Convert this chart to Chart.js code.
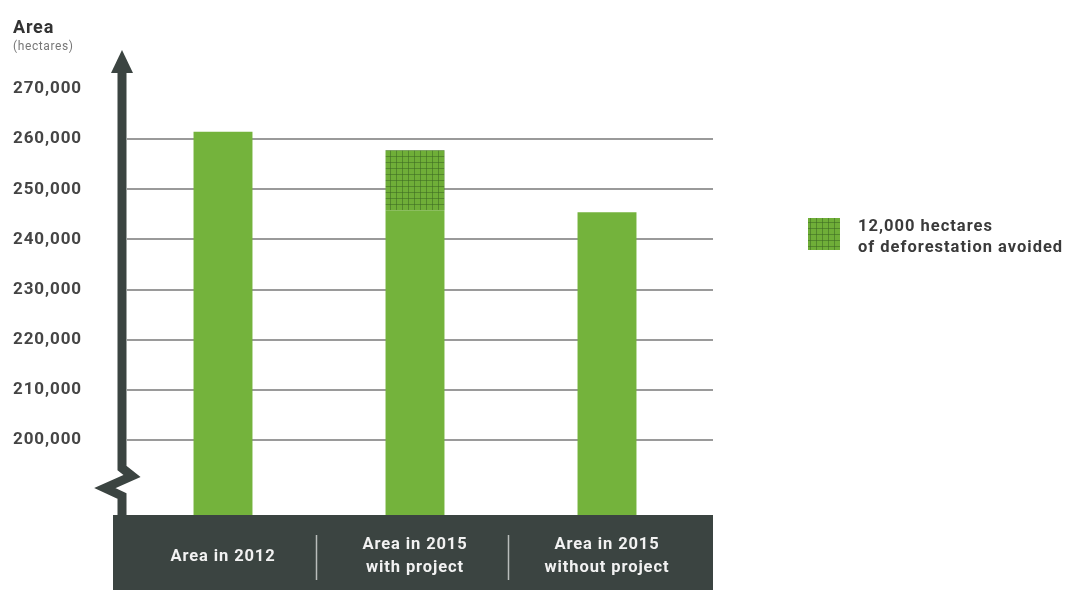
<!DOCTYPE html>
<html>
<head>
<meta charset="utf-8">
<script src="https://cdn.jsdelivr.net/npm/chart.js@4/dist/chart.umd.min.js"></script>
<style>
  html, body { margin: 0; padding: 0; background: #ffffff; }
  #wrap { width: 1071px; height: 590px; }
</style>
</head>
<body>
<div id="wrap"><canvas id="chart" width="1071" height="590"></canvas></div>
<script>
// Forest area per scenario (hectares)
const categories = [
  ['Area in 2012'],
  ['Area in 2015', 'with project'],
  ['Area in 2015', 'without project']
];
const forestArea = [261500, 245800, 245400];
const avoidedDeforestation = [null, 12000, null];
const tickValues = [200000, 210000, 220000, 230000, 240000, 250000, 260000, 270000];
const gridValues = [200000, 210000, 220000, 230000, 240000, 250000, 260000];
const axisTitle = 'Area';
const axisUnit = '(hectares)';
const legendLines = ['12,000 hectares', 'of deforestation avoided'];

const GREEN = '#74b33c';
const DARK = '#3b4441';
const FONT = 'Roboto, "Noto Sans", sans-serif';

// cross-hatched fill for the avoided deforestation segment
function makeHatch(ctx) {
  const c = document.createElement('canvas');
  c.width = 6; c.height = 6;
  const g = c.getContext('2d');
  g.fillStyle = '#6fae38';
  g.fillRect(0, 0, 6, 6);
  g.fillStyle = 'rgba(60,105,35,0.55)';
  g.fillRect(0, 0, 6, 1);
  g.fillRect(0, 0, 1, 6);
  return ctx.createPattern(c, 'repeat');
}

const ctx = document.getElementById('chart').getContext('2d');
const hatch = makeHatch(ctx);

// dark band under the bars with separators between categories
const bandPlugin = {
  id: 'band',
  beforeDraw(chart) {
    const c = chart.ctx;
    const x = chart.scales.x;
    const area = chart.chartArea;
    c.save();
    c.fillStyle = DARK;
    c.fillRect(113, area.bottom, 713 - 113, chart.height - area.bottom);
    c.strokeStyle = '#b9bdbb';
    c.lineWidth = 1.5;
    for (let i = 0; i < categories.length - 1; i++) {
      const px = Math.round(x.getPixelForValue(i + 0.5)) - 2.5;
      c.beginPath();
      c.moveTo(px, area.bottom + 20);
      c.lineTo(px, area.bottom + 65);
      c.stroke();
    }
    c.restore();
    c.letterSpacing = '0.9px';
  }
};

// horizontal guide lines, running a little past the last category
const gridPlugin = {
  id: 'guides',
  beforeDatasetsDraw(chart) {
    const c = chart.ctx;
    const y = chart.scales.y;
    const area = chart.chartArea;
    c.save();
    c.strokeStyle = '#9a9a9a';
    c.lineWidth = 2;
    gridValues.forEach(v => {
      const py = Math.round(y.getPixelForValue(v));
      c.beginPath();
      c.moveTo(area.left, py);
      c.lineTo(area.right + 10, py);
      c.stroke();
    });
    c.restore();
  }
};

// vertical arrow axis with the break mark near the bottom
const axisPlugin = {
  id: 'arrowAxis',
  afterDatasetsDraw(chart) {
    const c = chart.ctx;
    const area = chart.chartArea;
    const y = chart.scales.y;
    const cx = area.left - 5;
    const top = y.top;
    c.save();
    c.strokeStyle = DARK;
    c.fillStyle = DARK;
    c.lineWidth = 9;
    c.lineJoin = 'miter';
    c.beginPath();
    c.moveTo(cx, top + 18);
    c.lineTo(cx, 468);
    c.lineTo(cx + 10, 476);
    c.lineTo(cx - 17, 488);
    c.lineTo(cx, 496);
    c.lineTo(cx, area.bottom + 2);
    c.stroke();
    c.beginPath();
    c.moveTo(cx, top + 1);
    c.lineTo(cx + 11, top + 24);
    c.lineTo(cx - 11, top + 24);
    c.closePath();
    c.fill();
    c.restore();
  }
};

// axis title and legend text
const labelsPlugin = {
  id: 'labels',
  afterDraw(chart) {
    const c = chart.ctx;
    c.save();
    c.letterSpacing = '0.8px';
    c.textBaseline = 'middle';
    c.textAlign = 'left';
    c.fillStyle = '#333';
    c.font = 'bold 18px ' + FONT;
    c.fillText(axisTitle, 13, 28);
    c.fillStyle = '#777';
    c.font = '12px ' + FONT;
    c.letterSpacing = '0.6px';
    c.fillText(axisUnit, 13, 47);

    c.fillStyle = hatch;
    c.fillRect(808, 218, 32, 32);
    c.fillStyle = '#3a3a3a';
    c.font = 'bold 16.5px ' + FONT;
    c.letterSpacing = '1px';
    c.fillText(legendLines[0], 858, 227);
    c.fillText(legendLines[1], 858, 248);
    c.restore();
  }
};

new Chart(ctx, {
  type: 'bar',
  data: {
    labels: categories,
    datasets: [
      {
        label: 'Forest area',
        data: forestArea,
        backgroundColor: GREEN,
        borderWidth: 0,
        categoryPercentage: 1,
        barPercentage: 0.307
      },
      {
        label: legendLines.join(' '),
        data: avoidedDeforestation,
        backgroundColor: hatch,
        borderWidth: 0,
        categoryPercentage: 1,
        barPercentage: 0.307
      }
    ]
  },
  options: {
    responsive: false,
    animation: false,
    devicePixelRatio: 1,
    layout: { padding: { top: 49, left: 13, right: 368, bottom: 0 } },
    plugins: {
      legend: { display: false },
      tooltip: { enabled: false }
    },
    scales: {
      x: {
        stacked: true,
        offset: true,
        grid: { display: false },
        border: { display: false },
        ticks: {
          color: '#f2f2f2',
          font: { family: FONT, size: 16.5, weight: 'bold', lineHeight: '23px' },
          padding: 22,
          crossAlign: 'center',
          maxRotation: 0,
          autoSkip: false
        },
        afterFit(scale) { scale.height = 75; }
      },
      y: {
        stacked: true,
        min: 185000,
        max: 278000,
        grid: { display: false },
        border: { display: false },
        afterBuildTicks(scale) {
          scale.ticks = tickValues.map(v => ({ value: v }));
        },
        ticks: {
          color: '#454545',
          crossAlign: 'far',
          autoSkip: false,
          font: { family: FONT, size: 17, weight: 'bold' },
          callback(v) {
            return Number(v).toLocaleString('en-US');
          }
        },
        afterFit(scale) { scale.width = 114; }
      }
    }
  },
  plugins: [bandPlugin, gridPlugin, axisPlugin, labelsPlugin]
});
</script>
</body>
</html>
